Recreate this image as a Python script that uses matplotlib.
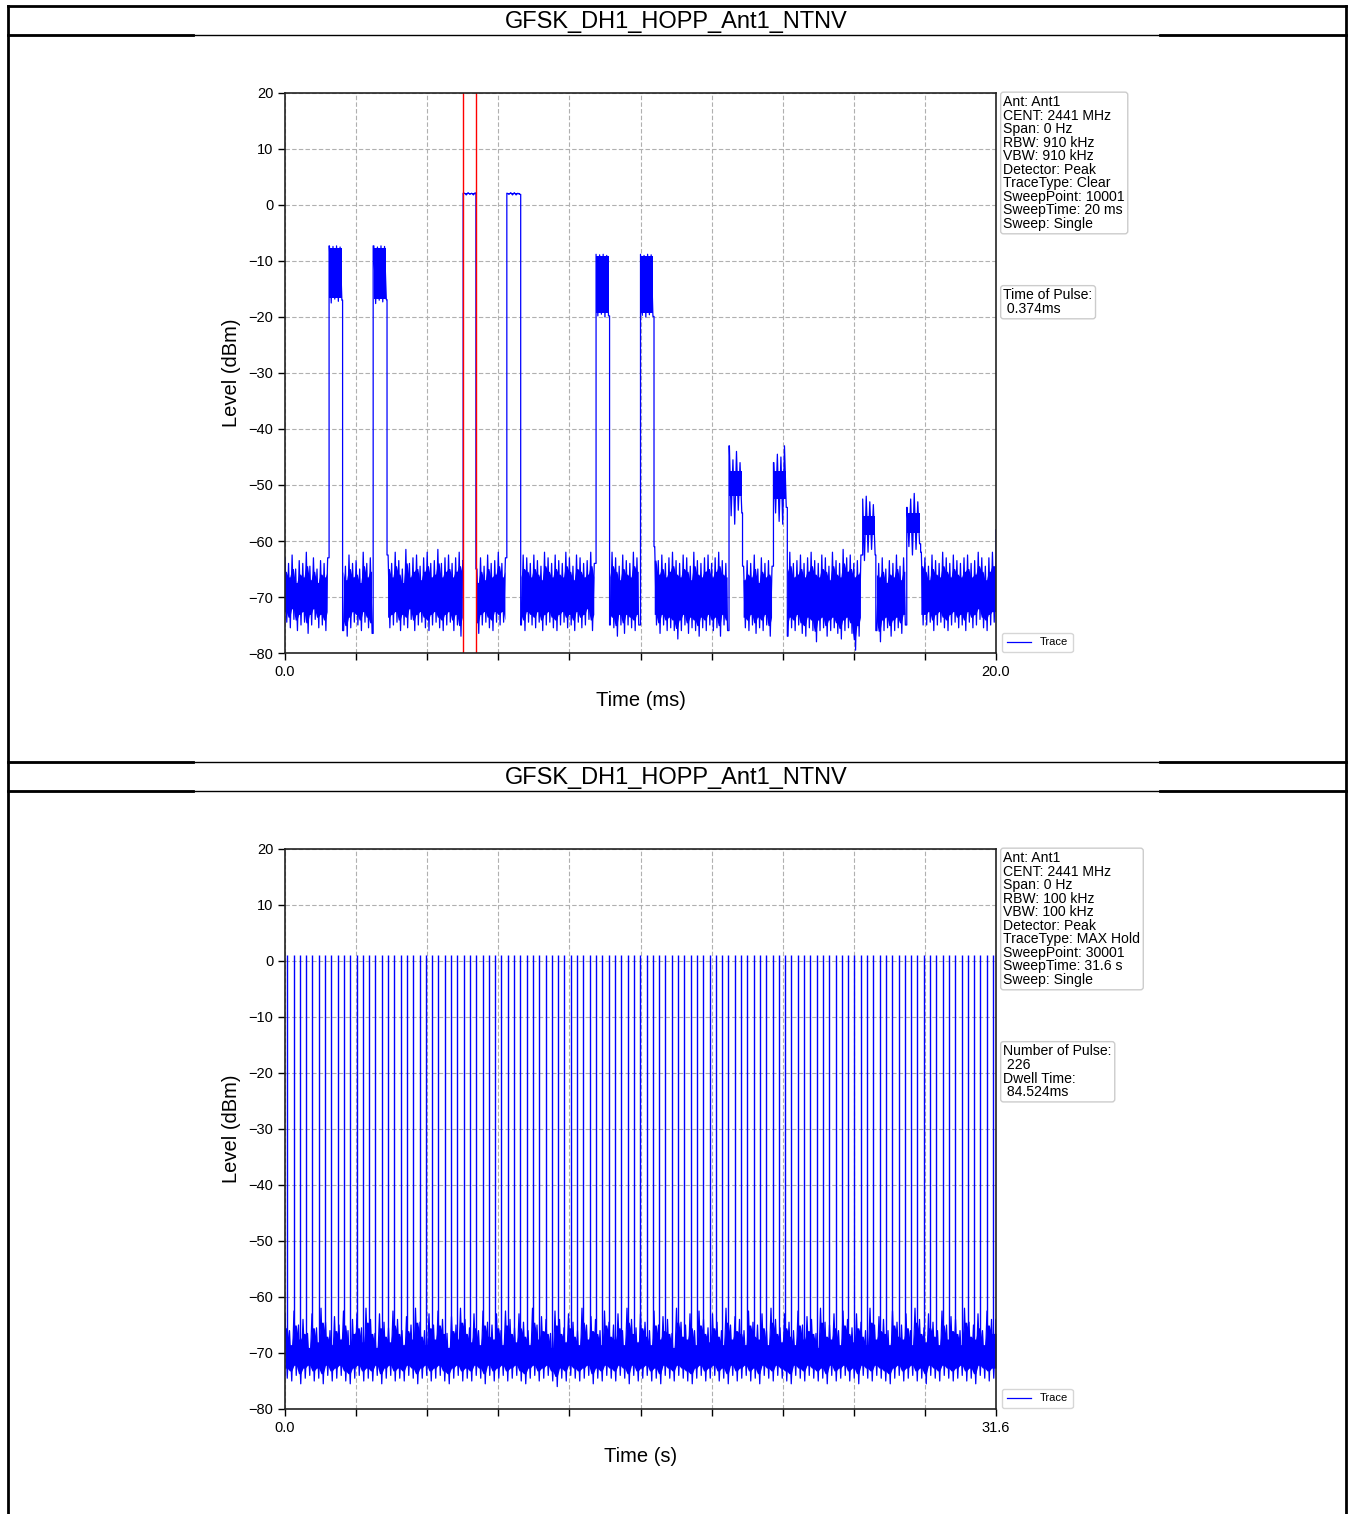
import numpy as np
import matplotlib
matplotlib.use('Agg')
import matplotlib.pyplot as plt
from matplotlib.lines import Line2D

plt.rcParams['font.family'] = ['Liberation Sans', 'DejaVu Sans']

title_text = 'GFSK_DH1_HOPP_Ant1_NTNV'

# ---- panel 1: 20 ms zero-span sweep ----
# noise floor max / min per 0.1 ms bin
floor_hi_1 = [
    -63, -64, -62.5, -65, -63.5, -64, -62, -64.5, -63, -65,
    -63.5, -64, -63, -65, -64, -66, -63, -64.5, -62.5, -64,
    -63.5, -65, -62, -64, -63, -65.5, -64, -63, -64, -62.5,
    -64, -62, -63.5, -65, -61.5, -64, -63, -62.5, -64.5, -63,
    -62, -64, -63.5, -61.5, -64, -63, -62.5, -64, -63, -62,
    -63.5, -64, -63, -62.5, -65, -63, -64.5, -62.5, -64, -63.5,
    -62, -64, -63, -65, -64, -63.5, -64, -62.5, -63, -64,
    -62.5, -63.5, -64.5, -62, -63, -64, -62.5, -63.5, -64, -62,
    -63, -64.5, -62.5, -63, -64, -63.5, -62, -64, -63, -64.5,
    -63.5, -64, -62, -63, -64.5, -62.5, -63.5, -64, -62, -63,
    -64, -62.5, -63, -64, -61, -63.5, -62.5, -64, -63, -62,
    -63.5, -64, -62.5, -63, -64.5, -62, -63.5, -64, -63, -62.5,
    -64, -63, -62, -63.5, -64, -63, -62.5, -64, -63.5, -64.5,
    -63.5, -64, -62.5, -65, -63, -64, -63.5, -64.5, -63, -62.5,
    -64, -63, -62, -64, -63.5, -62.5, -64, -63, -62, -63.5,
    -64, -62.5, -63, -64.5, -62, -63.5, -64, -61.5, -63, -62.5,
    -64, -63.5, -62.5, -63, -64, -62.5, -63.5, -64, -63, -65,
    -63.5, -64, -62.5, -64.5, -63, -64, -62.5, -63.5, -64, -62,
    -63, -64.5, -62.5, -63.5, -64, -62, -63, -64, -62.5, -63.5,
    -64, -63, -62.5, -64, -63.5, -62, -63, -64.5, -63, -62,
]
floor_lo_1 = [
    -74.5, -75.5, -74, -76, -75, -74.5, -76.5, -75, -74, -75.5,
    -75, -76, -74.5, -75, -76, -75.5, -76, -77, -75.5, -74.5,
    -75, -76, -74.5, -75.5, -76.5, -75, -74.5, -76, -75, -75.5,
    -75, -74.5, -76, -75, -75.5, -74, -76, -75, -74.5, -75.5,
    -76, -75, -74.5, -75.5, -76, -75, -74.5, -76, -75, -77,
    -75.5, -76, -75, -74.5, -76.5, -75, -74.5, -75.5, -76, -74.5,
    -75, -74.5, -76, -75, -74.5, -75.5, -75, -76, -74.5, -75,
    -75.5, -74.5, -76, -75, -74.5, -75.5, -76, -75, -74.5, -75.5,
    -75, -76, -74.5, -75.5, -75, -74, -76, -75, -74.5, -75.5,
    -76, -75, -75.5, -77, -75, -76.5, -75, -75.5, -76, -75,
    -76.5, -77, -75.5, -76, -75, -76.5, -75, -76, -75.5, -76,
    -77.5, -76, -75, -76.5, -75.5, -76, -77, -75.5, -76, -75,
    -76, -75.5, -77, -75, -76, -75.5, -76, -75, -76.5, -75.5,
    -76, -75, -76.5, -75.5, -76, -75, -77, -75.5, -76, -75,
    -76, -77, -75.5, -76, -75, -76.5, -77, -75.5, -76, -78,
    -76, -75.5, -77, -76, -75.5, -76.5, -77.5, -76, -75.5, -76.5,
    -79.5, -77, -75.5, -76, -77, -75.5, -76, -78, -76, -75.5,
    -77, -76, -75.5, -76.5, -75, -76, -77, -75.5, -76, -75,
    -75, -74.5, -76, -75, -74.5, -75.5, -76, -75, -74.5, -75.5,
    -75, -76, -74.5, -75.5, -75, -74, -75.5, -76, -75, -74.5,
]
end_level_1 = -58.0

# bursts: start / stop in ms, max and min per 0.1 ms inside the burst
pulse_start = [1.24, 2.48, 5.01, 6.24, 8.75, 10.00, 12.49, 13.74, 16.25, 17.49]
pulse_end = [1.62, 2.87, 5.37, 6.63, 9.13, 10.38, 12.87, 14.13, 16.62, 17.88]
pulse_hi = [
    [-7.3, -7.4, -7.3, -7.5],
    [-7.3, -7.5, -7.3, -7.4],
    [2.1, 2.2, 2.1, 2.2],
    [2.1, 2.2, 2.2, 2.1],
    [-8.8, -8.9, -8.8, -9.0],
    [-8.8, -9.0, -8.8, -8.9],
    [-43.0, -45.5, -44.0, -46.0],
    [-46.0, -44.5, -45.0, -43.0],
    [-52.5, -52.0, -53.0, -53.5],
    [-54.0, -52.5, -51.5, -53.0],
]
pulse_lo = [
    [-17.5, -16.8, -17.2, -17.0],
    [-17.6, -17.0, -17.3, -16.9],
    [1.8, 1.9, 1.8, 1.9],
    [1.9, 1.8, 1.8, 1.9],
    [-19.8, -19.5, -20.0, -19.8],
    [-19.7, -20.0, -19.6, -19.9],
    [-55.5, -57.0, -54.5, -55.0],
    [-55.0, -56.5, -57.0, -54.0],
    [-63.5, -62.0, -61.5, -62.5],
    [-61.0, -62.5, -61.5, -60.5],
]
# dense part of each burst (top, bottom)
pulse_core = [
    (-7.6, -16.6), (-7.6, -16.8), (2.1, 1.9), (2.1, 1.9), (-9.1, -19.3),
    (-9.1, -19.3), (-47.5, -52.0), (-47.5, -52.5), (-55.5, -59.0), (-55.0, -58.5),
]
marker_t = [5.01, 5.37]

info_1 = ('Ant: Ant1\nCENT: 2441 MHz\nSpan: 0 Hz\nRBW: 910 kHz\nVBW: 910 kHz\n'
          'Detector: Peak\nTraceType: Clear\nSweepPoint: 10001\nSweepTime: 20 ms\nSweep: Single')
result_1 = 'Time of Pulse:\n 0.374ms'

# ---- panel 2: 31.6 s max hold ----
floor_hi_2 = [
    -63, -66, -62.5, -65, -64, -66.5, -63, -65.5, -62, -64.5,
    -66, -63.5, -65, -62.5, -66, -64, -63, -65.5, -62, -64,
    -66.5, -63, -64.5, -65.5, -62.5, -64, -66, -63.5, -65, -62,
    -64.5, -66, -63, -65, -62.5, -64, -66.5, -63.5, -65, -62,
    -64, -65.5, -63, -66, -62.5, -64.5, -65, -63, -66, -62.5,
    -64, -65.5, -63, -64.5, -66, -62, -65, -63.5, -64, -66.5,
    -62.5, -64, -65.5, -63, -64.5, -66, -62, -65, -63.5, -64,
    -66, -62.5, -64.5, -65, -63, -66, -62, -64, -65.5, -63,
    -64.5, -66, -62.5, -65, -63.5, -64, -66.5, -62, -64.5, -65,
    -63, -66, -62.5, -64, -65.5, -63, -64.5, -66, -62, -65,
    -63.5, -64, -66, -62.5, -64.5, -65, -63, -66, -62, -64,
    -65.5, -63, -64.5, -66, -62.5, -65, -63.5, -64, -66.5, -62,
    -64.5, -65, -63, -66, -62.5, -64, -65.5, -63, -64.5, -66,
    -62, -65, -63.5, -64, -66, -62.5, -64.5, -65, -63, -66,
    -62, -64, -65.5, -63, -64.5, -66, -62.5, -65, -63.5, -64,
    -66, -62, -64.5, -65, -63, -66, -62.5, -64,
]
floor_lo_2 = [
    -74.5, -75, -74, -75.5, -74.5, -74, -75, -74.5, -75.5, -74,
    -75, -74.5, -74, -75, -75.5, -74.5, -74, -75, -74.5, -75,
    -74, -75.5, -74.5, -74, -75, -74.5, -75, -74, -74.5, -75.5,
    -74.5, -74, -75, -74.5, -74, -75, -75.5, -74.5, -74, -75,
    -74.5, -75, -74, -74.5, -75.5, -74, -75, -74.5, -74, -75,
    -74.5, -74, -75, -75.5, -74.5, -74, -75, -74.5, -74, -75,
    -76, -74.5, -75, -74, -74.5, -75, -74.5, -74, -75.5, -74.5,
    -75, -74, -74.5, -75, -74, -74.5, -75.5, -74, -75, -74.5,
    -74, -75, -74.5, -75.5, -74, -74.5, -75, -74, -74.5, -75,
    -75.5, -74.5, -74, -75, -74.5, -74, -75, -74.5, -75.5, -74,
    -75, -74.5, -74, -75, -74.5, -75.5, -74, -74.5, -75, -74,
    -74.5, -75, -75.5, -74, -74.5, -75, -74, -74.5, -75, -74.5,
    -75.5, -74, -75, -74.5, -74, -75, -74.5, -75.5, -74, -74.5,
    -75, -74, -74.5, -75, -75.5, -74.5, -74, -75, -74.5, -74,
    -75, -74.5, -75.5, -74, -74.5, -75, -74, -74.5, -75, -74.5,
    -74, -75, -74.5, -75.5, -74, -74.5, -75, -74.5,
]
# hop pulses seen on this channel (s)
pulse_t_2 = [
    0.10, 0.38, 0.66, 0.94, 1.22, 1.50, 1.78, 2.06, 2.34, 2.62,
    2.90, 3.18, 3.46, 3.74, 4.02, 4.30, 4.58, 4.86, 5.14, 5.42,
    5.70, 5.98, 6.26, 6.54, 6.82, 7.10, 7.38, 7.66, 7.94, 8.22,
    8.50, 8.78, 9.06, 9.34, 9.62, 9.90, 10.18, 10.46, 10.74, 11.02,
    11.30, 11.58, 11.86, 12.14, 12.42, 12.70, 12.98, 13.26, 13.54, 13.82,
    14.11, 14.39, 14.67, 14.95, 15.23, 15.51, 15.79, 16.07, 16.35, 16.63,
    16.91, 17.19, 17.47, 17.75, 18.03, 18.31, 18.59, 18.87, 19.15, 19.43,
    19.71, 19.99, 20.27, 20.55, 20.83, 21.11, 21.39, 21.67, 21.95, 22.23,
    22.51, 22.79, 23.07, 23.35, 23.63, 23.91, 24.19, 24.47, 24.75, 25.03,
    25.31, 25.59, 25.87, 26.15, 26.43, 26.71, 26.99, 27.27, 27.55, 27.83,
    28.11, 28.39, 28.67, 28.95, 29.23, 29.51, 29.79, 30.07, 30.35, 30.63,
    30.91, 31.19, 31.47,
]
pulse_peak_2 = 1.0

info_2 = ('Ant: Ant1\nCENT: 2441 MHz\nSpan: 0 Hz\nRBW: 100 kHz\nVBW: 100 kHz\n'
          'Detector: Peak\nTraceType: MAX Hold\nSweepPoint: 30001\nSweepTime: 31.6 s\nSweep: Single')
result_2 = 'Number of Pulse:\n 226\nDwell Time:\n 84.524ms'

TOP_GAP, BOT_GAP = 2.5, 1.8   # dense part of the noise sits inside the max/min


def build_trace_1():
    step = 0.05
    grid = np.round(np.arange(0, 20 + step / 2, step), 3)
    ts, ys, ct, cb = [], [], [], []
    cur = -1
    j0 = 0
    for j, t in enumerate(grid):
        k = -1
        for n in range(len(pulse_start)):
            if pulse_start[n] <= t <= pulse_end[n]:
                k = n
        b = min(j // 2, len(floor_hi_1) - 1)
        fval = floor_hi_1[b] if j % 2 == 0 else floor_lo_1[b]
        if k != cur:
            if cur >= 0:
                ts += [pulse_end[cur], pulse_end[cur]]
                ys += [pulse_lo[cur][-1], fval]
                ct += [np.nan, np.nan]
                cb += [np.nan, np.nan]
            if k >= 0:
                ts += [pulse_start[k], pulse_start[k]]
                ys += [ys[-1] if ys else fval, pulse_hi[k][0]]
                ct += [np.nan, np.nan]
                cb += [np.nan, np.nan]
                j0 = j
            cur = k
        if k >= 0:
            i = min((j - j0) // 2, 3)
            ys.append(pulse_hi[k][i] if (j - j0) % 2 == 0 else pulse_lo[k][i])
            ct.append(pulse_core[k][0])
            cb.append(pulse_core[k][1])
        else:
            ys.append(fval)
            ct.append(floor_hi_1[b] - TOP_GAP)
            cb.append(floor_lo_1[b] + BOT_GAP)
        ts.append(t)
    ts.append(20.0)
    ys.append(end_level_1)
    ct.append(np.nan)
    cb.append(np.nan)
    return np.array(ts), np.array(ys), np.array(ct), np.array(cb)


def build_trace_2():
    step = 0.1
    grid = np.round(np.arange(0, 31.6 + step / 2, step), 3)
    ys, ct, cb = [], [], []
    for j in range(len(grid)):
        b = min(j // 2, len(floor_hi_2) - 1)
        ys.append(floor_hi_2[b] if j % 2 == 0 else floor_lo_2[b])
        ct.append(floor_hi_2[b] - TOP_GAP)
        cb.append(floor_lo_2[b] + BOT_GAP)
    return grid, np.array(ys), np.array(ct), np.array(cb)


W, H = 1348, 1514
fig = plt.figure(figsize=(W / 100, H / 100), dpi=100)


def style_axes(ax, xmax, xlab, xmaxlab):
    ax.set_xlim(0, xmax)
    ax.set_ylim(-80, 20)
    ax.set_yticks(np.arange(-80, 21, 10))
    ax.set_xticks(np.linspace(0, xmax, 11))
    ax.set_xticklabels(['0.0'] + [''] * 9 + [xmaxlab])
    ax.grid(True, color='#b0b0b0', linestyle=(0, (4, 2)), linewidth=0.8)
    ax.set_axisbelow(True)
    ax.tick_params(labelsize=10.5, length=5, width=1, direction='out')
    for s in ax.spines.values():
        s.set_linewidth(1.2)
        s.set_color('#222222')
    ax.set_xlabel(xlab, fontsize=14.5, labelpad=9)
    ax.set_ylabel('Level (dBm)', fontsize=14.5, labelpad=5)


def boxes(ax, info, result):
    bb = dict(boxstyle='round,pad=0.2', fc='white', ec='#cccccc', lw=1)
    ax.text(1.0105, 0.9965, info, transform=ax.transAxes, fontsize=10.1,
            va='top', ha='left', linespacing=0.96, bbox=bb)
    ax.text(1.0105, 0.651, result, transform=ax.transAxes, fontsize=10.1,
            va='top', ha='left', linespacing=0.96, bbox=bb)
    leg = ax.legend(loc='lower left', bbox_to_anchor=(1.004, -0.004), fontsize=8,
                    frameon=True, fancybox=True, borderaxespad=0.3, handlelength=2.2)
    leg.get_frame().set_edgecolor('#cccccc')


ax1 = fig.add_axes([285 / W, 1 - 653 / H, 711 / W, 560 / H])
t1, y1, c1t, c1b = build_trace_1()
ax1.fill_between(t1, c1b, c1t, where=c1t > c1b, color='#0000ff', lw=0)
ax1.plot(t1, y1, color='#0000ff', lw=0.9, label='Trace')
for mt in marker_t:
    ax1.axvline(mt, color='red', lw=1.0)
style_axes(ax1, 20.0, 'Time (ms)', '20.0')
boxes(ax1, info_1, result_1)

ax2 = fig.add_axes([285 / W, 1 - 1409 / H, 711 / W, 560 / H])
t2, y2, c2t, c2b = build_trace_2()
ax2.fill_between(t2, c2b, c2t, color='#0000ff', lw=0)
ax2.plot(t2, y2, color='#0000ff', lw=0.9, label='Trace')
ax2.vlines(pulse_t_2, -70, pulse_peak_2, color='#0000ff', lw=1.0)
style_axes(ax2, 31.6, 'Time (s)', '31.6')
boxes(ax2, info_2, result_2)

# report frame and title rows (pixel coordinates)
ov = fig.add_axes([0, 0, 1, 1])
ov.set_xlim(0, W)
ov.set_ylim(H, 0)
ov.axis('off')
k = '#000000'
ov.add_line(Line2D([8, 1346], [6, 6], color=k, lw=2))
ov.add_line(Line2D([8, 8], [6, H], color=k, lw=2))
ov.add_line(Line2D([1346, 1346], [6, H], color=k, lw=2))
for yy in [35, 762, 791]:
    ov.add_line(Line2D([8, 1346], [yy, yy], color=k, lw=1))
    ov.add_line(Line2D([8, 193], [yy, yy], color=k, lw=2))
    ov.add_line(Line2D([1160, 1346], [yy, yy], color=k, lw=2))
ov.text(676, 22, title_text, fontsize=17, ha='center', va='center')
ov.text(676, 778, title_text, fontsize=17, ha='center', va='center')

fig.savefig('out.png', dpi=100)
